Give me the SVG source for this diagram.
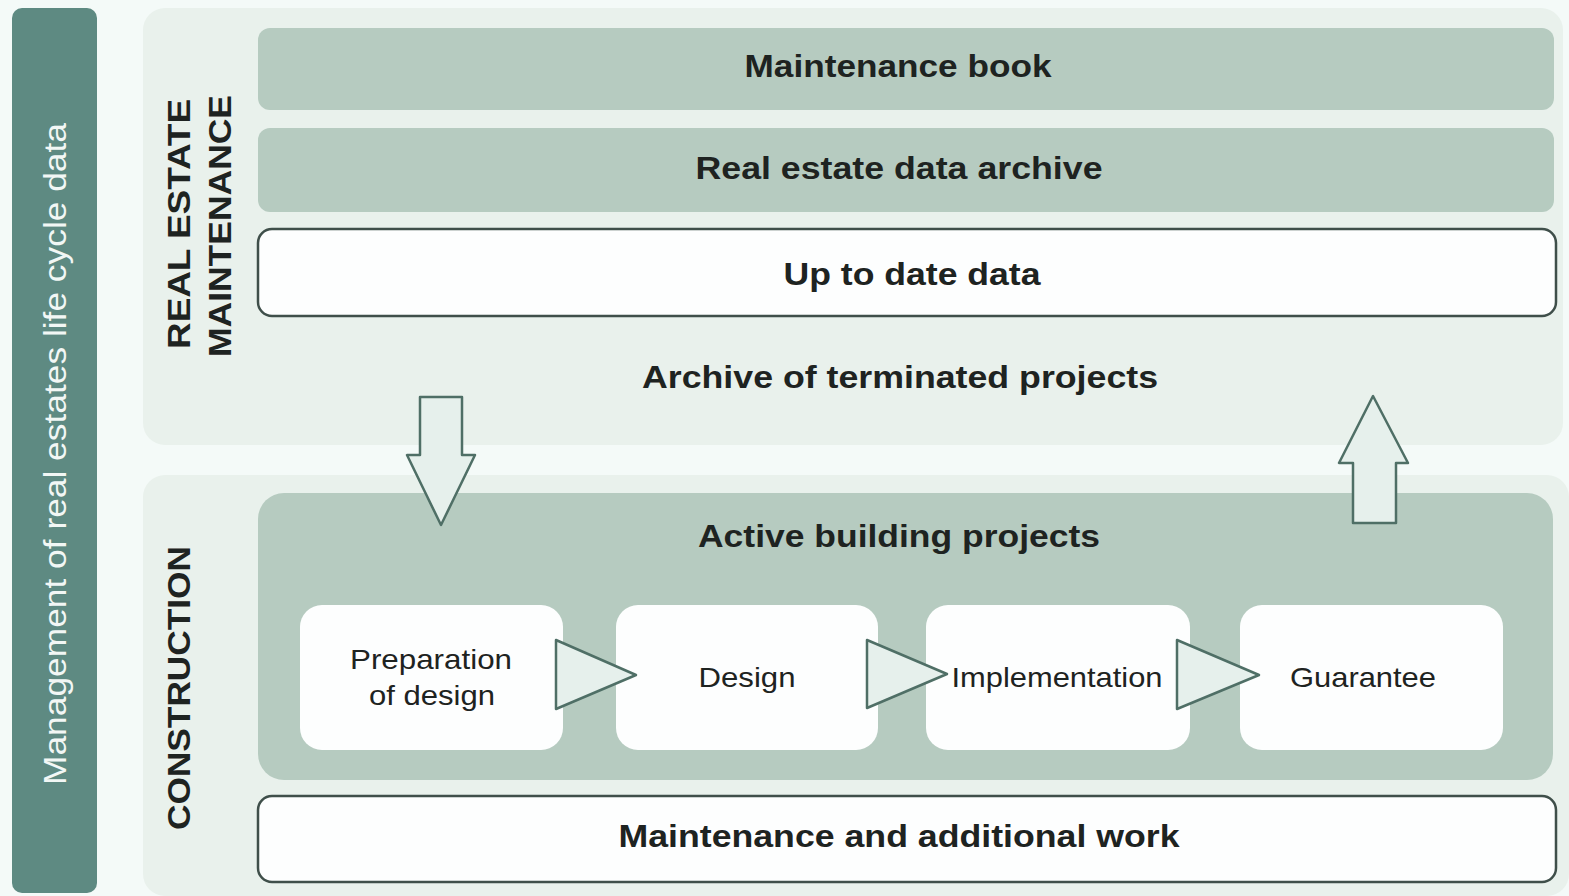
<svg xmlns="http://www.w3.org/2000/svg" width="1569" height="896" viewBox="0 0 1569 896">
<defs>
<style>
.t{font-family:"Liberation Sans",Arial,sans-serif;fill:#1e2321;}
.b{font-weight:bold;font-size:32px;}
.s{font-size:28px;}
.bar{fill:#b6cbc0;}
.wbox{fill:#fdfefe;stroke:#3f4f4a;stroke-width:2.5;}
.step{fill:#fdfefe;}
.arr{fill:#e6f0ec;stroke:#4f6f66;stroke-width:2.5;stroke-linejoin:round;}
</style>
</defs>
<rect x="0" y="0" width="1569" height="896" fill="#f4faf8"/>
<g id="lifecycle">
<rect x="12" y="8" width="85" height="885" rx="10" fill="#5e8a82"/>
<text class="t" transform="translate(66,454) rotate(-90)" text-anchor="middle" font-size="31" textLength="662" lengthAdjust="spacingAndGlyphs" style="fill:#f2f7f5">Management of real estates life cycle data</text>
</g>
<g id="maintenance-panel">
<rect x="143" y="8" width="1420" height="437" rx="22" fill="#e9f1ec"/>
<text class="t b" transform="translate(190,224) rotate(-90)" text-anchor="middle" font-size="34" textLength="250" lengthAdjust="spacingAndGlyphs">REAL ESTATE</text>
<text class="t b" transform="translate(231,226) rotate(-90)" text-anchor="middle" font-size="34" textLength="262" lengthAdjust="spacingAndGlyphs">MAINTENANCE</text>
<text class="t b" x="900" y="388" text-anchor="middle" textLength="516" lengthAdjust="spacingAndGlyphs">Archive of terminated projects</text>
</g>
<g id="maintenance-book">
<rect class="bar" x="258" y="28" width="1296" height="82" rx="12"/>
<text class="t b" x="898" y="77" text-anchor="middle" textLength="307" lengthAdjust="spacingAndGlyphs">Maintenance book</text>
</g>
<g id="data-archive">
<rect class="bar" x="258" y="128" width="1296" height="84" rx="12"/>
<text class="t b" x="899" y="179" text-anchor="middle" textLength="407" lengthAdjust="spacingAndGlyphs">Real estate data archive</text>
</g>
<g id="up-to-date">
<rect class="wbox" x="258" y="229" width="1298" height="87" rx="14"/>
<text class="t b" x="912" y="285" text-anchor="middle" textLength="257" lengthAdjust="spacingAndGlyphs">Up to date data</text>
</g>
<g id="construction-panel">
<rect x="143" y="475" width="1426" height="421" rx="22" fill="#e9f1ec"/>
<text class="t b" transform="translate(190,688) rotate(-90)" text-anchor="middle" font-size="34" textLength="284" lengthAdjust="spacingAndGlyphs">CONSTRUCTION</text>
</g>
<g id="active-projects">
<rect class="bar" x="258" y="493" width="1295" height="287" rx="26"/>
<text class="t b" x="899" y="547" text-anchor="middle" textLength="402" lengthAdjust="spacingAndGlyphs">Active building projects</text>
</g>
<g id="preparation">
<rect class="step" x="300" y="605" width="263" height="145" rx="22"/>
<text class="t s" x="431" y="669" text-anchor="middle" textLength="162" lengthAdjust="spacingAndGlyphs">Preparation</text>
<text class="t s" x="432" y="705" text-anchor="middle" textLength="126" lengthAdjust="spacingAndGlyphs">of design</text>
</g>
<g id="design">
<rect class="step" x="616" y="605" width="262" height="145" rx="22"/>
<text class="t s" x="747" y="687" text-anchor="middle" textLength="97" lengthAdjust="spacingAndGlyphs">Design</text>
</g>
<g id="implementation">
<rect class="step" x="926" y="605" width="264" height="145" rx="22"/>
<text class="t s" x="1057" y="687" text-anchor="middle" textLength="211" lengthAdjust="spacingAndGlyphs">Implementation</text>
</g>
<g id="guarantee">
<rect class="step" x="1240" y="605" width="263" height="145" rx="22"/>
<text class="t s" x="1363" y="687" text-anchor="middle" textLength="146" lengthAdjust="spacingAndGlyphs">Guarantee</text>
</g>
<g id="maintenance-work">
<rect class="wbox" x="258" y="796" width="1298" height="86" rx="14"/>
<text class="t b" x="899" y="847" text-anchor="middle" textLength="561" lengthAdjust="spacingAndGlyphs">Maintenance and additional work</text>
</g>
<g id="connectors">
<polygon class="arr" points="420,397 462,397 462,455 475,455 441,525 407,455 420,455"/>
<polygon class="arr" points="1353,523 1396,523 1396,463 1408,463 1373,396 1339,463 1353,463"/>
<polygon class="arr" points="556,640 636,675 556,709"/>
<polygon class="arr" points="867,640 947,674 867,708"/>
<polygon class="arr" points="1177,640 1259,675 1177,709"/>
</g>
</svg>
